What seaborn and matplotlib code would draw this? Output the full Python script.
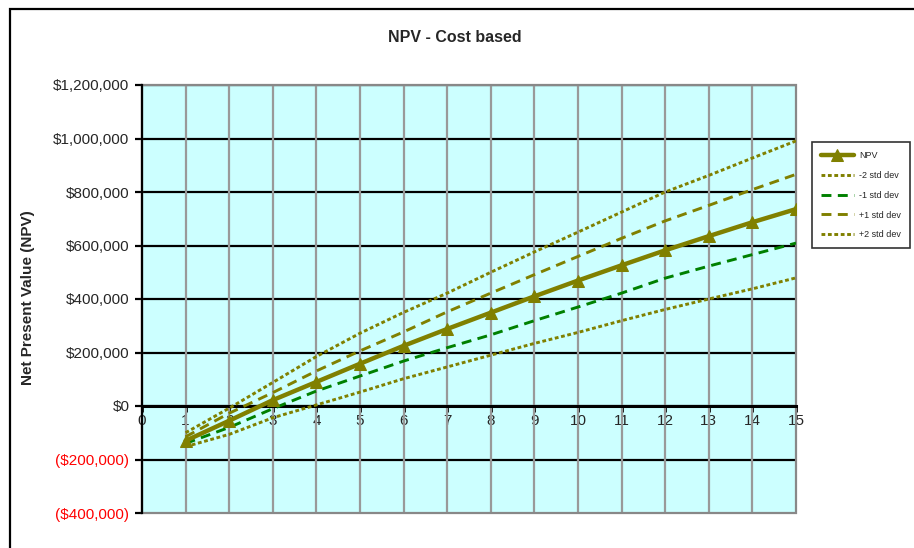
import numpy as np
import pandas as pd
import matplotlib
matplotlib.use("Agg")
import matplotlib.pyplot as plt
import seaborn as sns
from matplotlib.patches import Rectangle
from matplotlib.ticker import FuncFormatter, MultipleLocator

# ---- data (in dollars) ----
years = list(range(1, 16))
npv = [-130000, -55000, 22000, 90000, 158000, 225000, 288000, 349000, 410000,
       469000, 526000, 582000, 635000, 687000, 736000]
minus2 = [-152000, -106000, -44000, 4000, 52000, 102000, 146000, 190000, 234000,
          275000, 319000, 361000, 400000, 438000, 479000]
minus1 = [-140000, -80000, -10000, 56000, 112000, 168000, 218000, 266000, 319000,
          370000, 422000, 478000, 523000, 566000, 609000]
plus1 = [-115000, -27000, 50000, 131000, 206000, 277000, 352000, 422000, 491000,
         559000, 627000, 692000, 750000, 809000, 866000]
plus2 = [-100000, -8000, 88000, 185000, 272000, 350000, 422000, 500000, 576000,
         650000, 725000, 800000, 862000, 927000, 991000]
series_names = ["NPV", "-2 std dev", "-1 std dev", "+1 std dev", "+2 std dev"]
title = "NPV - Cost based"
ylabel = "Net Present Value (NPV)"

sns.set_style("white")
plt.rcParams['font.family'] = ['Liberation Sans', 'DejaVu Sans']

W, H = 914, 548
fig = plt.figure(figsize=(W / 100, H / 100), dpi=100)

# outer chart border
fig.patches.append(Rectangle((10 / W, -0.1), 2.0, 1 - 9 / H + 0.1, transform=fig.transFigure,
                             fill=False, edgecolor="black", linewidth=1.6))

L, R, T, B = 142, 796, 85, 513
ax = fig.add_axes([L / W, 1 - B / H, (R - L) / W, (B - T) / H])
ax.set_facecolor("#CCFFFF")

olive = "#808000"
green = "#008000"

sns.lineplot(x=years, y=npv, ax=ax, color=olive, linewidth=3.2, marker="^",
             markersize=9, markeredgecolor=olive, label=series_names[0], zorder=6)
sns.lineplot(x=years, y=minus2, ax=ax, color=olive, linewidth=2.1,
             linestyle=(0, (1.3, 0.9)), label=series_names[1], zorder=5)
sns.lineplot(x=years, y=minus1, ax=ax, color=green, linewidth=2.1,
             linestyle=(0, (3.4, 2.2)), label=series_names[2], zorder=5)
sns.lineplot(x=years, y=plus1, ax=ax, color=olive, linewidth=2.1,
             linestyle=(0, (3.4, 2.2)), label=series_names[3], zorder=5)
sns.lineplot(x=years, y=plus2, ax=ax, color=olive, linewidth=2.1,
             linestyle=(0, (1.3, 0.9)), label=series_names[4], zorder=5)

ax.set_xlim(0, 15)
ax.set_ylim(-400000, 1200000)
ax.set_xlabel("")
ax.set_ylabel("")

# grid
ax.yaxis.set_major_locator(MultipleLocator(200000))
ax.xaxis.set_major_locator(MultipleLocator(1))
for yv in range(-200000, 1200001, 200000):
    ax.axhline(yv, color="black", linewidth=1.6, zorder=1)
for xv in range(1, 15):
    ax.axvline(xv, color="#999999", linewidth=1.6, zorder=1)

# frame
for s in ["top", "right"]:
    ax.spines[s].set_visible(False)
ax.add_patch(Rectangle((0, 0), 1, 1, transform=ax.transAxes, fill=False,
                       edgecolor="#888888", linewidth=1.6, zorder=2, clip_on=False))
ax.spines["left"].set_color("black")
ax.spines["left"].set_linewidth(1.6)
ax.spines["left"].set_zorder(3)
ax.spines["bottom"].set_position(("data", 0))
ax.spines["bottom"].set_color("black")
ax.spines["bottom"].set_linewidth(2.2)
ax.spines["bottom"].set_zorder(3)

def money(v, pos):
    v = int(round(v))
    if v < 0:
        return "(${:,})".format(-v)
    return "${:,}".format(v)

ax.yaxis.set_major_formatter(FuncFormatter(money))
ax.tick_params(axis="y", direction="out", length=5, width=1.6, color="black",
               labelsize=11, pad=4, left=True)
ax.tick_params(axis="x", direction="out", length=4, width=2, color="black",
               labelsize=11, pad=2, bottom=True)
ax.set_xticks(range(0, 16))
ax.set_xticklabels([str(i) for i in range(0, 16)])
for lab, v in zip(ax.get_yticklabels(), ax.get_yticks()):
    if v < 0:
        lab.set_color("red")

ax.get_legend().remove()
handles, labels = ax.get_legend_handles_labels()
leg = fig.legend(handles, labels, loc="upper left",
                 bbox_to_anchor=(812 / W, 1 - 142 / H), fontsize=6.5,
                 frameon=True, fancybox=False, edgecolor="black",
                 handlelength=3.6, borderpad=1.0, labelspacing=1.2,
                 handletextpad=0.6, borderaxespad=0)
leg.get_frame().set_linewidth(1.2)

fig.text(455 / W, 1 - 38 / H, title, ha="center", va="center",
         fontsize=11.5, fontweight="bold")
fig.text(28 / W, 1 - 298 / H, ylabel, ha="center", va="center",
         rotation=90, fontsize=11, fontweight="bold")

fig.savefig("out.png", dpi=100)
